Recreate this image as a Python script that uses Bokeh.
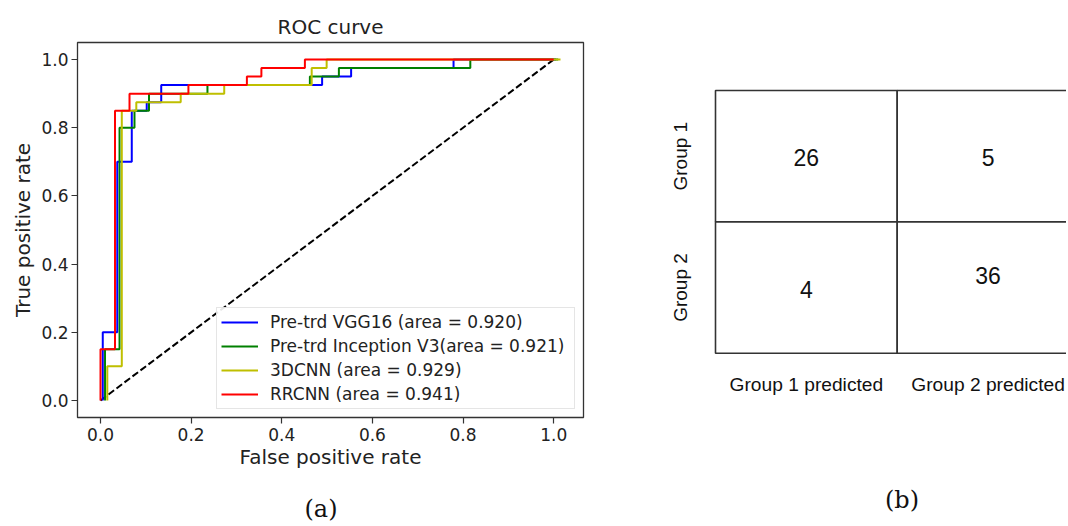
import math
from bokeh.plotting import figure
from bokeh.layouts import row, column
from bokeh.models import Range1d, FixedTicker, Div
from bokeh.core.properties import value
from bokeh.embed import file_html
from bokeh.resources import INLINE

# ---------------- data ----------------
vgg_fpr = [0.005, 0.005, 0.037, 0.037, 0.069, 0.069, 0.102, 0.102, 0.134, 0.134, 0.489, 0.489, 0.553, 0.553, 0.779, 0.779, 1.005]
vgg_tpr = [0.0, 0.2, 0.2, 0.7, 0.7, 0.85, 0.85, 0.875, 0.875, 0.925, 0.925, 0.95, 0.95, 0.975, 0.975, 1.0, 1.0]

inc_fpr = [0.01, 0.01, 0.042, 0.042, 0.075, 0.075, 0.107, 0.107, 0.236, 0.236, 0.462, 0.462, 0.526, 0.526, 0.816, 0.816, 1.01]
inc_tpr = [0.0, 0.15, 0.15, 0.8, 0.8, 0.85, 0.85, 0.9, 0.9, 0.925, 0.925, 0.95, 0.95, 0.975, 0.975, 1.0, 1.0]

cnn3d_fpr = [0.015, 0.015, 0.047, 0.047, 0.079, 0.079, 0.177, 0.177, 0.273, 0.273, 0.466, 0.466, 0.499, 0.499, 1.015]
cnn3d_tpr = [0.0, 0.1, 0.1, 0.85, 0.85, 0.875, 0.875, 0.9, 0.9, 0.925, 0.925, 0.975, 0.975, 1.0, 1.0]

rrcnn_fpr = [0.0, 0.0, 0.032, 0.032, 0.064, 0.064, 0.194, 0.194, 0.323, 0.323, 0.355, 0.355, 0.451, 0.451, 1.0]
rrcnn_tpr = [0.0, 0.15, 0.15, 0.85, 0.85, 0.9, 0.9, 0.925, 0.925, 0.95, 0.95, 0.975, 0.975, 1.0, 1.0]

chance_x = [0.0, 1.0]
chance_y = [0.0, 1.0]

series_labels = ["Pre-trd VGG16 (area = 0.920)",
                 "Pre-trd Inception V3(area = 0.921)",
                 "3DCNN (area = 0.929)",
                 "RRCNN (area = 0.941)"]
series_colors = ["#0000ff", "#008000", "#bfbf00", "#ff0000"]

tick_values = [0.0, 0.2, 0.4, 0.6, 0.8, 1.0]
tick_labels = ["0.0", "0.2", "0.4", "0.6", "0.8", "1.0"]

true_groups = ["Group 1", "Group 2"]
pred_groups = ["Group 1 predicted", "Group 2 predicted"]
counts = [[26, 5], [4, 36]]

captions = ["(a)", "(b)"]

# ---------------- layout constants ----------------
TXT = "#222222"
FONT = "DejaVu Sans"
W1, W2, H = 628, 438, 478
B_TOP, FRAME_H = 42, 375
B_BOT = H - B_TOP - FRAME_H
CAP_H = 47

# ---------------- ROC figure ----------------
p1 = figure(width=W1, height=H, output_backend="svg", toolbar_location=None,
            x_range=Range1d(-0.05075, 1.06575), y_range=Range1d(-0.05, 1.05),
            title="ROC curve")
p1.min_border_left = 77
p1.min_border_right = W1 - 77 - 506
p1.min_border_top = B_TOP
p1.min_border_bottom = B_BOT
p1.background_fill_color = "white"
p1.border_fill_color = "white"
p1.outline_line_color = "#333333"
p1.outline_line_width = 1.3
p1.grid.visible = False

p1.title.text_font = FONT
p1.title.text_font_size = "20px"
p1.title.text_font_style = "normal"
p1.title.text_color = TXT
p1.title.align = "center"
p1.title.standoff = 7

for ax in (p1.xaxis[0], p1.yaxis[0]):
    ax.ticker = FixedTicker(ticks=tick_values)
    ax.major_label_overrides = {v: s for v, s in zip(tick_values, tick_labels)}
    ax.axis_line_color = None
    ax.major_tick_line_color = "#333333"
    ax.major_tick_line_width = 1.2
    ax.major_tick_out = 6
    ax.major_tick_in = 0
    ax.minor_tick_line_color = None
    ax.major_label_text_font = FONT
    ax.major_label_text_font_size = "17px"
    ax.major_label_text_color = TXT
    ax.axis_label_text_font = FONT
    ax.axis_label_text_font_size = "20px"
    ax.axis_label_text_font_style = "normal"
    ax.axis_label_text_color = TXT

p1.xaxis.axis_label = "False positive rate"
p1.yaxis.axis_label = "True positive rate"
p1.xaxis.major_label_standoff = 4
p1.xaxis.axis_label_standoff = 1
p1.yaxis.major_label_standoff = 3
p1.yaxis.axis_label_standoff = 3

p1.line(chance_x, chance_y, line_color="black", line_width=2, line_dash="7 3")

curves = [(vgg_fpr, vgg_tpr), (inc_fpr, inc_tpr), (cnn3d_fpr, cnn3d_tpr), (rrcnn_fpr, rrcnn_tpr)]
for (fx, ty), lab, col in zip(curves, series_labels, series_colors):
    p1.line(fx, ty, line_color=col, line_width=2, legend_label=lab)

lg = p1.legend[0]
lg.location = "bottom_right"
lg.label_text_font = FONT
lg.label_text_font_size = "17px"
lg.label_text_color = TXT
lg.glyph_width = 37
lg.glyph_height = 20
lg.label_height = 20
lg.label_width = 300
lg.label_standoff = 12
lg.spacing = 4
lg.padding = 4
lg.margin = 8
lg.border_line_color = "#cccccc"
lg.border_line_width = 1
lg.background_fill_color = "white"
lg.background_fill_alpha = 0.9

# ---------------- confusion matrix figure ----------------
left_px, col_px = 87.0, 181.7      # matrix left edge / cell width (canvas px)
top_px, row_px = 48.0, 131.35      # matrix top below frame top / cell height
p2 = figure(width=W2, height=H, output_backend="svg", toolbar_location=None,
            x_range=Range1d(-left_px / col_px, (W2 - left_px) / col_px),
            y_range=Range1d(-(FRAME_H - top_px - 2 * row_px) / row_px, 2 + top_px / row_px),
            x_axis_location=None, y_axis_location=None)
p2.min_border_left = 0
p2.min_border_right = 0
p2.min_border_top = B_TOP
p2.min_border_bottom = B_BOT
p2.outline_line_color = None
p2.grid.visible = False
p2.background_fill_color = "white"
p2.border_fill_color = "white"

n = len(true_groups)
lefts, rights, bottoms, tops, cx, cy, txt = [], [], [], [], [], [], []
for i, tg in enumerate(true_groups):
    r = n - 1 - i
    for j, pg in enumerate(pred_groups):
        lefts.append(j); rights.append(j + 1); bottoms.append(r); tops.append(r + 1)
        cx.append(j + 0.5)
        # the lower-right count sits a little above its cell centre in the original
        cy.append(r + 0.5 + (0.093 if (i, j) == (1, 1) else (-0.015 if (i, j) == (1, 0) else -0.008)))
        txt.append(str(counts[i][j]))

p2.quad(left=lefts, right=rights, bottom=bottoms, top=tops, fill_color="white",
        line_color="#333333", line_width=1.6)
p2.text(x=cx, y=cy, text=txt, text_align="center", text_baseline="middle",
        text_font=value("Liberation Sans"), text_font_size="23px", text_color="#111111")

p2.text(x=[-0.19] * n, y=[n - 1 - i + 0.5 for i in range(n)], text=true_groups, angle=math.pi / 2,
        text_align="center", text_baseline="middle",
        text_font=value("Liberation Sans"), text_font_size="19px", text_color="#111111")
p2.text(x=[j + 0.5 for j in range(n)], y=[-0.24] * n, text=pred_groups,
        text_align="center", text_baseline="middle",
        text_font=value("Liberation Sans"), text_font_size="19.2px", text_color="#111111")

# ---------------- captions ----------------
cap_style = "font-family:'DejaVu Serif';font-size:24px;line-height:28px;color:#111111;text-align:center;"
div_a = Div(text=f'<div style="{cap_style}padding-top:12px;margin-left:4px;width:{W1 - 4}px;">{captions[0]}</div>',
            width=W1, height=CAP_H)
div_b = Div(text=f'<div style="{cap_style}padding-top:3px;margin-left:80px;width:{W2 - 80}px;">{captions[1]}</div>',
            width=W2, height=CAP_H)

layout = column(row(p1, p2), row(div_a, div_b))
open("out.html", "w").write(file_html(layout, INLINE))
